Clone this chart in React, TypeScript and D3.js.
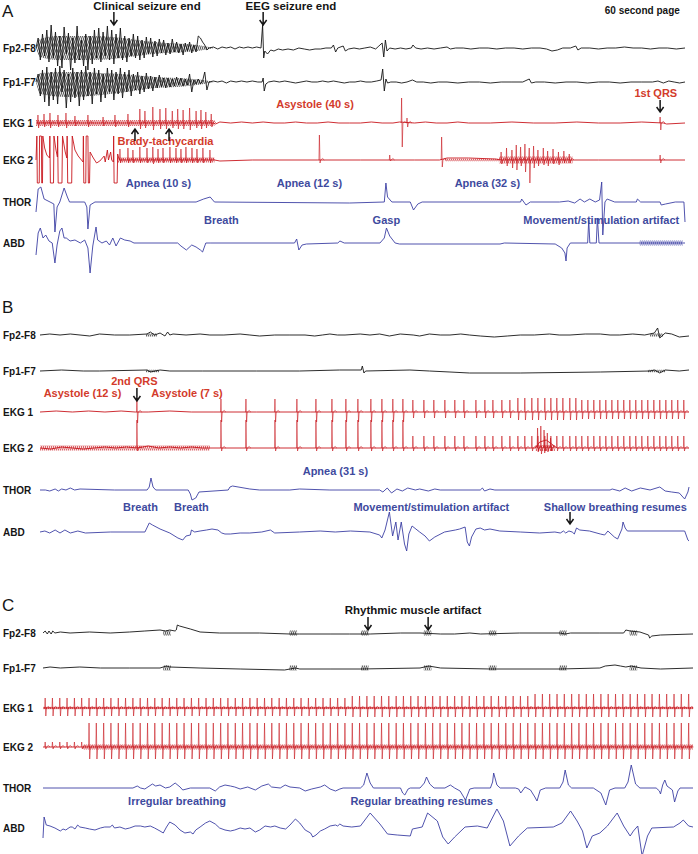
import React, { useEffect, useRef } from "react";
import * as d3 from "d3";

type Pt = [number, number];
type Beat = [number, number, number]; // time, R height, S depth
type Band = [number, number, number]; // start, end, half width
type Env = [number, number, number]; // time, upper, lower
type Amp = [number, number, number]; // from time, R height, S depth

const W = 698;
const H = 854;
const BLACK = "#151515";
const RED = "#c8161d";
const BLUE = "#3c40a4";
const RED_TEXT = "#d33b2b";
const BLUE_TEXT = "#3e4a9e";
const FONT = "'Liberation Sans', Arial, sans-serif";
const STEP = 0.2; // seconds between dense seizure samples

// ---------- panel A ----------
const aFp2Seizure = [
  0, 10, -12, 14, -8, 18, -14, 23, -10, 16, -18, 12, -20, 21, -6, 15, -22, 10, -15, 22,
  -12, 8, -18, 14, -22, 12, -16, 18, -10, 20, -14, 16, -8, 22, -12, 18, -16, 14, -10, 20,
  -12, 12, -14, 10, -8, 14, -10, 12, -12, 8, -10, 11, -6, 10, -9, 7, -8, 9, -5, 8,
  -7, 5, -6, 9, -4, 6, -5, 4, -7, 5, -3, 6, -5, 3, -4, 12, 10, 6, 3, -2, 0,
];
const aFp2: Pt[] = [
  [16.4, 1], [16.8, -1], [17.2, 1], [17.6, 0], [18, 1], [18.4, -1], [18.8, 1], [19.2, 0], [19.6, 1], [20, 0],
  [20.4, 1], [20.8, 0], [20.95, 23], [21.05, -10], [21.15, -3], [21.4, -6], [21.7, -2], [22, -3], [22.4, -1],
  [22.8, -2], [23.3, -1], [23.8, -2], [24.3, 0], [24.8, -1], [25.3, -2], [25.8, -1], [26.3, -1], [26.8, 0],
  [27.3, 0], [27.5, 3], [27.7, -4], [27.9, 0], [28.4, 2], [28.6, -3], [28.9, -1], [29.4, 0], [29.9, -1],
  [30.4, 0], [30.9, 1], [31.4, -1], [31.7, 2], [32.0, 5], [32.15, -9], [32.3, 8], [32.45, -3], [32.7, 0],
  [33.2, -1], [33.7, 0], [34.2, -1], [34.7, 0], [34.85, 3], [35.1, 0], [35.6, -1], [36.2, 0], [36.8, -1],
  [37.4, 0], [38, 1], [38.3, -1], [38.8, 0], [39.5, 0], [40.2, -1], [41, 0], [41.8, 0], [42.6, -1], [43.4, 0],
  [44.2, 0], [45, -1], [45.8, 0], [46.6, 0], [47.2, -1], [47.7, -3], [48.2, -2], [48.7, 0], [49.4, 0],
  [49.9, 2], [50.1, -2], [50.4, 0], [51.2, 0], [52, -1], [52.8, 0], [53.6, 0], [54.4, 1], [55.2, 0], [56, 0],
  [56.8, -1], [57.6, 0], [58.4, 0], [59.2, -1], [60, 0],
];
const aFp2Env: Env[] = [
  [0, 0, 0], [0.4, 9, -9], [2, 12, -12], [5, 12, -12], [8, 10, -10], [10, 7, -7], [12, 5, -5], [14, 4, -4], [15.5, 2, -2], [16.5, 0, 0],
];

const aFp1Seizure = [
  0, 8, -14, 12, -20, 15, -24, 10, -18, 14, -22, 16, -10, 12, -26, 8, -20, 14, -16, 10,
  -24, 12, -18, 16, -14, 10, -22, 14, -12, 12, -20, 8, -16, 14, -10, 12, -18, 10, -12, 14,
  -16, 10, -10, 12, -14, 8, -8, 10, -12, 6, -10, 9, -7, 6, -9, 5, -6, 7, -5, 4,
  -6, 4, -5, 3, -4, 5, -3, 4, -4, 3, -3, 8, -10, 2, -2, 3, -2, 1, 10, -8, 0,
];
const aFp1: Pt[] = [
  [16.4, 1], [16.8, 0], [17.2, 1], [17.6, -1], [18, 1], [18.5, 0], [19, 1], [19.5, 0], [20, 1], [20.5, 0],
  [20.9, 0], [21.0, 4], [21.1, -9], [21.25, -2], [21.5, 0], [22, 1], [22.5, 0], [23, 1], [23.5, 0], [24, -1],
  [24.5, 0], [25, 1], [25.5, 0], [26, 0], [26.5, 1], [27, 0], [27.5, 1], [28, 0], [28.5, -1], [29, 0],
  [29.5, 0], [30, 1], [30.5, 0], [31, 0], [31.5, 1], [31.9, 2], [32.05, 13], [32.2, -9], [32.35, 3],
  [32.5, -1], [32.8, 0], [33.3, 0], [33.8, -1], [34.3, 0], [34.8, 2], [35.2, 0], [35.8, 0], [36.5, -1],
  [37.2, 0], [38, 0], [39, -1], [40, 0], [41, 0], [42, -1], [43, 0], [44, 0], [45, 0], [45.6, 3], [45.8, -1],
  [46.2, 0], [47, 0], [48, -1], [49, 0], [50, 0], [51, -1], [52, 0], [53, 0], [54, -1], [55, 0], [56, 0],
  [57, 0], [57.5, 1], [58, -1], [58.5, 1], [59, 0], [59.5, -1], [60, 0],
];
const aFp1Env: Env[] = [
  [0, 0, 0], [0.4, 9, -12], [3, 10, -15], [6, 9, -13], [9, 7, -9], [11, 5, -6], [13, 4, -5], [15.5, 2, -2], [16.5, 0, 0],
];

const aEkg1: Pt[] = [
  [0, 0], [16.4, 0], [16.6, -1], [17, 1], [18, 0], [19, 1], [20, 0], [21, 1], [22, 0], [23, 0], [24, 1], [25, 0],
  [26, 0], [27, 1], [28, 0], [29, 0], [30, 0], [31, 1], [32, 0], [33, 0], [33.6, 1], [35, 0], [36, 1], [37, 0],
  [38, 0], [39, 1], [40, 0], [42, 0], [44, 1], [46, 0], [48, 0], [50, 1], [52, 0], [54, 0], [56, 1], [58, 0],
  [58.3, -1], [60, 0],
];
const aEkg1Beats: Beat[] = [
  [0.18, 8, 5], [0.74, 9, 4], [1.29, 10, 5], [2.03, 8, 4], [2.77, 10, 5], [3.6, 7, 3], [4.8, 8, 4], [6.2, 6, 3],
  [7.3, 8, 4], [8.5, 9, 4], [9.6, 14, 6], [10.07, 12, 5], [10.8, 16, 7], [11.46, 14, 6], [12.0, 15, 6],
  [12.6, 12, 5], [13.1, 14, 6], [13.6, 13, 6], [14.2, 15, 7], [14.8, 12, 5], [15.25, 13, 6], [15.7, 11, 5],
  [16.2, 9, 4], [33.8, 25, 24], [34.3, 5, 4], [57.7, 6, 7],
];
const aEkg1Bands: Band[] = [[0, 16.5, 3]];

const aEkg2: Pt[] = [
  [0, 0], [0.08, 24], [0.12, -23], [0.3, -23], [0.33, 24], [0.5, 24], [0.53, -23], [0.6, -23], [0.63, 24],
  [0.8, 12], [1.0, 5], [1.25, 2], [1.28, 24], [1.33, -23], [1.62, -23], [1.66, 24], [1.85, 10], [1.98, 3],
  [2.0, 24], [2.05, -23], [2.4, -23], [2.45, 24], [2.7, 8], [2.85, 2], [2.88, 24], [2.93, -23], [3.3, -23],
  [3.35, 24], [3.6, 10], [3.9, 4], [4.2, 0], [4.35, -2], [4.38, 24], [4.42, -23], [4.6, -23], [4.64, 24],
  [4.8, 24], [4.84, -23], [4.95, -23], [5.0, 8], [5.3, 2], [5.6, -3], [5.9, -1], [6.3, 4], [6.4, -2],
  [6.6, 10], [6.7, 0], [6.9, 8], [7.0, 0], [7.15, -2], [7.18, 24], [7.22, -23], [7.5, -23], [7.55, 6],
  [7.7, 0], [16.5, 0], [17, -1], [20, 0], [26, 0], [30, 0], [35, 0], [37.3, 0], [38, 2], [40, 2], [42.5, 1],
  [43, 0], [49.8, 0], [52, 0], [55, 0], [60, 0],
];
const aEkg2Beats: Beat[] = [
  [7.76, 11, 3], [8.5, 12, 3], [8.96, 10, 3], [9.6, 13, 3], [10.26, 12, 3], [10.8, 13, 4], [11.28, 11, 3],
  [11.74, 12, 3], [12.38, 13, 3], [12.94, 12, 3], [13.4, 11, 3], [13.86, 13, 3], [14.42, 12, 3], [14.88, 11, 3],
  [15.43, 12, 3], [16.08, 10, 3], [26.2, 25, 3], [32.7, 5, 1], [37.5, 23, 7], [43.0, 8, 4], [43.5, 12, 6],
  [44.0, 10, 8], [44.4, 15, 10], [44.8, 13, 6], [45.2, 16, 12], [45.6, 12, 23], [46.0, 14, 8], [46.4, 10, 6],
  [46.9, 12, 5], [47.3, 9, 6], [47.8, 11, 4], [48.3, 8, 5], [48.8, 9, 3], [49.3, 6, 3], [57.7, 5, 3],
];
const aEkg2Bands: Band[] = [[7.5, 16.5, 2.5], [37.8, 42.8, 1.2], [42.8, 49.6, 3.5]];

const aThor: Pt[] = [
  [0, -10], [0.2, 13], [0.45, 15], [0.75, 3], [1.3, 0], [1.65, -2], [1.75, -30], [1.95, -5], [2.2, 0],
  [2.6, 14], [2.9, 5], [3.1, 0], [4.5, 0], [4.7, -5], [4.8, -27], [5.0, -3], [5.45, 0], [14.8, 0], [15.5, 3],
  [16.1, 5], [16.5, 0], [29, -1], [32.2, 0], [32.35, 19], [32.5, 5], [32.9, 0], [34.6, 0], [34.9, -8],
  [35.3, -2], [35.7, 0], [44.8, 0], [44.9, 3], [45.3, -3], [45.7, 0], [48.4, 0], [49.2, 1], [49.8, -1],
  [50.3, 3], [50.7, 0], [51.2, 3], [51.7, 0], [52.1, 2], [52.3, 20], [52.4, -33], [52.6, 0], [52.8, 3],
  [53.5, 0], [55.5, 0], [55.6, 3], [55.9, 0], [57.7, 0], [57.8, -3], [58.2, -2], [59.1, 0], [59.9, 0], [60, -20],
];
const aAbd: Pt[] = [
  [0, -12], [0.2, 10], [0.4, 15], [0.65, 5], [0.9, 8], [1.2, 2], [1.5, 0], [1.75, -20], [1.95, -2], [2.2, 12],
  [2.4, 15], [2.6, 5], [2.8, 5], [3.15, 2], [3.6, 3], [4.1, 0], [4.5, 3], [4.8, -5], [5.0, -30], [5.25, -3],
  [5.55, 16], [5.7, 3], [6.1, 0], [6.5, 2], [6.8, -2], [7.1, 5], [7.4, -3], [7.8, 5], [8.2, 3], [8.7, 2],
  [9.06, 0], [13.1, 0], [13.4, -3], [13.9, -7], [14.4, -2], [14.8, -4], [15.2, -7], [15.4, -9], [15.7, 0],
  [16.1, 0], [23.9, 0], [24.1, 4], [24.3, -7], [24.6, -2], [25, -1], [27.9, 0], [28.1, 2], [28.5, 0],
  [31.8, 0], [32.2, 5], [32.4, 15], [32.7, 7], [33.2, 0], [33.6, -1], [42.9, -1], [43.3, 0], [48, -1],
  [48.6, -5], [48.9, -10], [49, -18], [49.1, -5], [49.4, 0], [51, 0], [51.1, 23], [51.2, 0], [51.8, 0],
  [51.9, 25], [52.05, 0], [55.8, 0], [59.8, 0], [60, 0],
];
const aAbdBands: Band[] = [[55.8, 59.8, 2.5]];

// ---------- panel B ----------
const bFp2: Pt[] = [
  [0, 0], [0.9, 1], [1.85, 0], [2.8, 1], [3.7, 0], [4.6, -1], [5.5, 1], [6.9, 0], [8.3, 0], [9.9, 1], [10.2, 3],
  [10.6, 0], [11.1, 2], [11.55, -1], [11.8, 3], [12, 0], [12.3, 1], [13.5, 0], [14.8, 1], [15.7, 0], [17, 0],
  [18.5, 1], [19.4, 0], [20.3, -1], [21.7, 0], [23.1, 0], [24.5, 0], [25.4, -1], [26.1, 0], [26.8, 1],
  [27.5, 0], [28.2, 0], [29.6, 1], [30.5, 0], [31.4, 1], [32.3, -1], [33.3, 1], [34.5, 0], [35.1, -1],
  [36, 1], [37, 0], [37.9, 0], [38.9, 1], [39.7, 0], [40.7, -1], [42, -2], [43.2, -1], [44.4, 0], [45.7, 0],
  [47.1, 1], [48, 0], [49, 0], [50.4, 1], [51.8, 1], [52.7, 0], [53.6, 0], [54.8, 1], [55.9, 0], [56.8, 2],
  [57.1, 7], [57.3, -3], [57.8, 2], [58.4, 1], [59.1, -2], [60, -1],
];
const bFp2Bands: Band[] = [[9.8, 10.8, 1.5], [56.4, 57.6, 1.5]];
const bFp1: Pt[] = [
  [0, 0], [2, 1], [4, 0], [5.5, 0], [9.9, 1], [10.2, -1], [11.1, 1], [12, 0], [15, 0], [20, 0], [24, 0],
  [27.7, 1], [29.7, 1], [29.8, 5], [29.95, -2], [30.1, 0], [34.2, 1], [36, 0], [37.9, -1], [39.7, -2],
  [44.4, -2], [51.8, -1], [56.4, 0], [56.8, 1], [57.3, -2], [57.8, 1], [59.1, 0], [60, 1],
];
const bFp1Bands: Band[] = [[9.8, 11, 1.2], [56.2, 57.8, 1.2]];

const bBeatTimes = [
  8.96, 16.73, 19.04, 21.72, 23.75, 25.51, 26.99, 28.28, 29.39, 30.59, 31.61, 32.62, 33.55, 34.47, 35.49,
  36.41, 37.43, 38.35, 39.19, 40.3, 41.13, 41.87, 42.7, 43.44, 44.18, 44.82, 45.47, 46.03, 46.67, 47.23,
  47.78, 48.34, 48.98, 49.54, 50.09, 50.65, 51.2, 51.76, 52.31, 52.87, 53.42, 53.97, 54.53, 55.08, 55.64,
  56.19, 56.75, 57.3, 57.86, 58.41, 58.96, 59.52,
];
const bEkg1Amp: Amp[] = [[0, 14, 11], [16, 13, 10], [34, 12, 6], [44, 14, 8], [50, 12, 7]];
const bEkg2Amp: Amp[] = [[0, 28, 3], [34, 12, 3]];
const bEkg1: Pt[] = [
  [0, 0], [1.5, 1], [3, 0], [4.5, 1], [6, 0], [7.5, 1], [8.8, 0], [10, 0], [12, 1], [14, 0], [16, 0], [20, 0],
  [25, 0], [30, 0], [40, 0], [50, 0], [60, 0],
];
const bEkg2: Pt[] = [
  [0, 0], [1, -1], [2, 1], [3, 0], [4, -1], [5, 0], [6, 1], [7, 0], [8, 1], [9, 0], [10, 2], [11, 0], [12, 1],
  [13, 0], [14, 1], [15, 0], [15.7, 0], [45.8, 0], [46.2, 6], [46.8, 8], [47.3, 4], [47.8, 0], [60, 0],
];
const bEkg2Extra: Beat[] = [[46.0, 20, 4], [46.3, 22, 6], [46.6, 18, 5], [46.9, 15, 4], [47.2, 10, 3]];
const bEkg2Bands: Band[] = [[0, 15.7, 2.5], [45.8, 47.6, 3]];

const bThor: Pt[] = [
  [0, 0], [0.5, 0], [0.9, -1], [1.4, 1], [1.7, -1], [2.0, 1], [2.4, 0], [2.8, 2], [3.2, 0], [3.7, 1], [6.9, 0],
  [9.9, 0], [10.1, 3], [10.26, 12], [10.45, 3], [10.7, 0], [13.7, 0], [13.9, -4], [14.05, -10], [14.4, -8],
  [14.7, -2], [17.4, 0], [17.56, 3], [17.8, 4], [19.4, 1], [20.3, 0], [23.1, 0], [24, 1], [26.8, 0],
  [31.4, 0], [31.7, -2], [32.1, 2], [32.5, -3], [33, 1], [33.5, -1], [34, 2], [34.7, 0], [35.1, 1],
  [35.9, -1], [36.5, 1], [37, 0], [40.7, 0], [40.9, 2], [41.1, -1], [41.6, 1], [42.05, 0], [52.7, 0],
  [52.9, 1], [53.6, -1], [54.1, 2], [54.7, -1], [55.5, 2], [56.4, 0], [57.3, 3], [57.8, -1], [58.4, -2],
  [59.1, -3], [59.6, -9], [59.9, -2], [60, 3],
];
const bAbd: Pt[] = [
  [0, 0], [0.45, 1], [0.9, -1], [1.4, 2], [1.85, -1], [2.3, 2], [2.8, -1], [3.5, 1], [4.2, -1], [6.5, 0],
  [9.7, 0], [10.1, 9], [10.4, 7], [11.1, 3], [12, -1], [12.75, -6], [13.2, -8], [13.5, -4], [13.9, -3],
  [14, 2], [14.3, 0], [14.8, 1], [15.4, 2], [15.9, 3], [16.45, 2], [16.8, -1], [17.1, -2], [17.6, -2],
  [18.5, -1], [19.4, -1], [20.5, 0], [21.3, 2], [21.7, -1], [24, 0], [25.9, 1], [27.3, 0], [28.7, 1],
  [30.5, 0], [31.4, -3], [31.6, -6], [31.9, 2], [32.3, 20], [32.6, -4], [32.9, 10], [33.1, -8], [33.4, 10],
  [33.7, -12], [33.9, -19], [34.1, -2], [34.4, 6], [35.1, 0], [35.6, -4], [36, -9], [36.5, -5], [37.4, 0],
  [38.4, 2], [38.8, 3], [39.3, 5], [39.5, -10], [39.7, -14], [39.9, -5], [40.3, 3], [40.7, 4], [41.1, 2],
  [41.6, 3], [42.5, 1], [44.4, 0], [46.2, -1], [47.6, 0], [48.1, -1], [48.4, 1], [48.6, -1], [48.9, 1],
  [49.2, 0], [49.4, -2], [49.5, 1], [49.6, 4], [49.9, 2], [50.8, 1], [51.8, -2], [52.2, -3], [52.5, 1],
  [53.1, -5], [53.4, -7], [53.8, 3], [53.9, 10], [54.1, 4], [54.3, 1], [59.6, 1], [59.9, -8], [60, -9],
];

// ---------- panel C ----------
const cFp2: Pt[] = [
  [0, 0], [0.2, 2], [0.4, -1], [0.55, 2], [0.75, -1], [0.9, 2], [1.1, 0], [1.6, 1], [2.5, 0], [4.3, 1],
  [6.2, 0], [8, 1], [9.4, 2], [10.8, 3], [11.3, 2], [11.7, 3], [12.2, 2], [12.3, 3], [12.4, 8], [12.6, 7],
  [13.6, 4], [14.5, 1], [16.3, 0], [20, 0], [22.8, -1], [23.7, -1], [26.5, -1], [28.3, -1], [30.2, -1],
  [33, 0], [34.8, 0], [36.7, -1], [38, -1], [39.4, 0], [40.4, -1], [44, 0], [47.7, 0], [48.2, -1], [48.7, 0],
  [51.4, 0], [53.6, 0], [53.8, 3], [54.2, 2], [55.1, 1], [55.9, -2], [56, -5], [56.2, -3], [57, -2], [60, -1],
];
const cFp1: Pt[] = [
  [0, 0], [0.65, 1], [1.6, 0], [3.4, 1], [5.3, 0], [8, 0], [10.8, 0], [11.4, 2], [11.7, 1], [14.5, 0],
  [18.2, -1], [22.3, -2], [23.3, 0], [23.7, -1], [26.5, -1], [29.3, -1], [34.8, 0], [35.6, 2], [36.7, 0],
  [41.3, -1], [47.7, -1], [51.4, 0], [51.9, 2], [52.8, 3], [53.3, 2], [53.8, 1], [54.3, 2], [55.2, 0],
  [57, -1], [60, 0],
];
const cMuscle = [11.45, 23.1, 29.7, 35.5, 41.5, 48, 54.5];

const cBeatTimes = [
  0.2, 0.87, 1.55, 2.22, 2.9, 3.57, 4.25, 4.92, 5.6, 6.27, 6.95, 7.62, 8.3, 8.97, 9.65, 10.32, 11.0, 11.67,
  12.35, 13.02, 13.7, 14.37, 15.05, 15.72, 16.4, 17.07, 17.75, 18.42, 19.1, 19.77, 20.45, 21.12, 21.8,
  22.47, 23.15, 23.82, 24.5, 25.17, 25.85, 26.52, 27.2, 27.87, 28.55, 29.22, 29.9, 30.57, 31.25, 31.92,
  32.6, 33.27, 33.95, 34.62, 35.3, 35.97, 36.65, 37.32, 38.0, 38.67, 39.35, 40.02, 40.7, 41.37, 42.05,
  42.72, 43.4, 44.07, 44.75, 45.42, 46.1, 46.77, 47.45, 48.12, 48.8, 49.47, 50.15, 50.82, 51.5, 52.17,
  52.85, 53.52, 54.2, 54.87, 55.55, 56.22, 56.9, 57.57, 58.25, 58.92, 59.6,
];
const cEkg1Amp: Amp[] = [[0, 10, 8], [28, 12, 9], [45, 14, 9]];
const cEkg2Amp: Amp[] = [[0, 5, 2], [3.6, 24, 12]];
const cEkg1: Pt[] = [[0, 0], [60, 0]];
const cEkg2: Pt[] = [[0, 0], [60, 0]];
const cEkg1Bands: Band[] = [[0, 60, 1.2]];
const cEkg2Bands: Band[] = [[3.7, 60, 2.5]];

const cThor: Pt[] = [
  [0, 0], [8.3, 0], [8.7, 2], [9.0, 0], [9.4, -1], [10.1, 4], [10.4, 2], [10.8, 3], [11.3, 0], [11.7, 1],
  [12.2, 5], [12.65, 1], [12.9, -2], [13.6, 0], [15.4, 0], [15.9, -3], [16.3, 1], [16.8, 3], [17.3, 2],
  [17.7, 1], [18.2, -1], [18.9, 1], [19.6, -2], [20.2, 2], [20.8, 4], [21.1, 1], [21.9, 0], [22.35, 3],
  [22.8, 1], [23.7, 0], [24.2, -3], [24.8, -1], [25.6, 1], [26, 3], [26.5, -1], [27, -3], [27.4, -1],
  [27.7, 0], [29.3, 0], [29.6, 3], [29.9, 15], [30.2, 5], [30.5, 0], [33, 0], [33.2, -5], [33.4, -7],
  [33.7, -1], [33.9, 0], [34.8, 0], [35.2, 5], [35.4, 11], [35.7, 4], [36.1, 0], [37.1, 0], [37.6, 3],
  [38, 0], [38.5, -3], [39, -12], [39.4, -1], [39.8, 0], [41.3, 0], [41.5, 6], [41.6, 15], [41.9, 3],
  [42.2, 0], [43.6, 0], [43.9, -1], [44.1, -5], [44.5, 1], [45, -2], [45.4, -9], [45.6, -13], [45.9, -2],
  [46.4, 0], [47.7, 0], [48, 6], [48.2, 18], [48.5, 3], [48.8, 0], [50.8, 0], [51.5, -5], [51.95, -17],
  [52.3, -2], [52.8, 0], [53.7, 0], [54, 6], [54.3, 23], [54.7, 4], [55.1, 0], [56.6, 0], [56.9, -3],
  [57, -6], [57.2, 3], [57.4, 8], [57.6, 2], [58.1, -2], [58.3, -14], [58.6, -3], [58.8, 0], [60, 0],
];
const cAbd: Pt[] = [
  [0, -10], [0.1, 11], [0.3, 3], [0.65, 2], [1.1, 0], [1.6, -3], [1.85, -1], [2.1, -2], [2.5, 1], [2.7, 1],
  [2.95, -1], [3.2, 3], [3.4, 1], [3.9, 0], [4.3, -1], [4.8, -2], [5.3, 0], [5.7, 1], [6.2, 1], [6.4, 3],
  [6.6, 0], [7.1, 1], [7.6, -1], [8, 0], [8.5, 2], [9, 2], [9.4, 1], [9.9, 2], [10.3, 0], [10.8, -3],
  [11.1, -5], [11.4, 1], [11.7, 6], [12.2, 3], [12.65, -2], [13.1, -5], [13.6, -4], [13.85, -6], [14.1, -2],
  [14.5, 1], [15, 5], [15.4, 7], [15.9, 4], [16.3, 0], [16.8, -2], [17.3, -3], [17.7, -2], [18.2, 0],
  [18.65, -1], [19.1, 0], [19.6, -4], [20, -2], [20.5, 2], [21, 1], [21.4, 2], [21.9, 0], [22.4, -1],
  [22.8, 3], [23.3, 9], [23.7, 5], [24.2, -2], [24.7, -5], [24.9, -9], [25.2, -7], [25.6, -3], [26, -1],
  [26.5, 2], [27, 3], [27.2, 2], [27.4, 4], [27.7, 2], [28.5, 1], [29.3, 2], [30.2, 15], [31.1, 4],
  [31.8, -6], [32.7, -7], [33.9, -8], [34.1, -1], [35.0, 1], [35.5, 15], [36.4, 7], [36.9, -9], [37.4, -16],
  [38.0, -9], [38.96, 1], [40.1, 2], [41.0, 0], [41.9, 19], [42.5, 7], [43.1, -18], [43.9, -8], [44.7, 0],
  [47.1, 1], [47.9, 5], [48.7, 17], [49.3, 7], [49.8, -3], [50.2, -20], [50.7, -8], [51.4, -5], [52.1, 2],
  [53.0, 15], [53.6, 2], [54.2, -8], [54.5, -3], [54.9, 2], [55.3, -28], [55.8, -8], [56.2, 0], [58.2, 1],
  [58.8, 5], [59.1, 8], [59.6, 2], [60, 1],
];

// ---------- annotations ----------
type Note = { p: number; t: number; y: number; text: string; color: string; anchor?: string; size?: number };
const notes: Note[] = [
  { p: 0, t: 10.26, y: 10, text: "Clinical seizure end", color: BLACK, size: 11.5 },
  { p: 0, t: 23.57, y: 10, text: "EEG seizure end", color: BLACK, size: 11.5 },
  { p: 0, t: 59.52, y: 14, text: "60 second page", color: BLACK, anchor: "end", size: 10 },
  { p: 0, t: 25.8, y: 108, text: "Asystole (40 s)", color: RED_TEXT },
  { p: 0, t: 57.3, y: 97, text: "1st QRS", color: RED_TEXT },
  { p: 0, t: 11.97, y: 145, text: "Brady-tachycardia", color: RED_TEXT },
  { p: 0, t: 11.32, y: 187, text: "Apnea (10 s)", color: BLUE_TEXT },
  { p: 0, t: 25.28, y: 187, text: "Apnea (12 s)", color: BLUE_TEXT },
  { p: 0, t: 41.73, y: 187, text: "Apnea (32 s)", color: BLUE_TEXT },
  { p: 0, t: 17.14, y: 224, text: "Breath", color: BLUE_TEXT },
  { p: 0, t: 32.39, y: 224, text: "Gasp", color: BLUE_TEXT },
  { p: 0, t: 52.26, y: 224, text: "Movement/stimulation artifact", color: BLUE_TEXT },
  { p: 1, t: 8.73, y: 385, text: "2nd QRS", color: RED_TEXT },
  { p: 1, t: 3.93, y: 397, text: "Asystole (12 s)", color: RED_TEXT },
  { p: 1, t: 13.59, y: 397, text: "Asystole (7 s)", color: RED_TEXT },
  { p: 1, t: 27.31, y: 475, text: "Apnea (31 s)", color: BLUE_TEXT },
  { p: 1, t: 9.29, y: 511, text: "Breath", color: BLUE_TEXT },
  { p: 1, t: 14.0, y: 511, text: "Breath", color: BLUE_TEXT },
  { p: 1, t: 36.18, y: 511, text: "Movement/stimulation artifact", color: BLUE_TEXT },
  { p: 1, t: 53.19, y: 511, text: "Shallow breathing resumes", color: BLUE_TEXT },
  { p: 2, t: 34.16, y: 614, text: "Rhythmic muscle artifact", color: BLACK, size: 11.5 },
  { p: 2, t: 12.37, y: 805, text: "Irregular breathing", color: BLUE_TEXT },
  { p: 2, t: 34.95, y: 805, text: "Regular breathing resumes", color: BLUE_TEXT },
];
// arrows: panel, time, tail y, head y
const arrows: [number, number, number, number][] = [
  [0, 7.2, 12, 25], [0, 21.0, 12, 25], [0, 57.7, 100, 112], [0, 9.15, 141, 129], [0, 12.3, 141, 129],
  [1, 8.96, 388, 401], [1, 49.0, 512, 524], [2, 30.0, 617, 630], [2, 35.55, 617, 630],
];

type Trace = {
  label: string; y: number; color: string; pts: Pt[];
  env?: Env[]; bands?: Band[]; beats?: Beat[]; beatTimes?: number[]; amp?: Amp[];
};
type Panel = { name: string; letterY: number; x0: number; x1: number; traces: Trace[] };

const dense = (vals: number[]): Pt[] => vals.map((v, i) => [i * STEP, v] as Pt);
const muscleBands = (ts: number[]): Band[] => ts.map((t) => [t - 0.35, t + 0.35, 2.5] as Band);

const panels: Panel[] = [
  {
    name: "A", letterY: 17, x0: 36, x1: 685,
    traces: [
      { label: "Fp2-F8", y: 48, color: BLACK, pts: [...dense(aFp2Seizure), ...aFp2], env: aFp2Env },
      { label: "Fp1-F7", y: 82, color: BLACK, pts: [...dense(aFp1Seizure), ...aFp1], env: aFp1Env },
      { label: "EKG 1", y: 123, color: RED, pts: aEkg1, beats: aEkg1Beats, bands: aEkg1Bands },
      { label: "EKG 2", y: 160, color: RED, pts: aEkg2, beats: aEkg2Beats, bands: aEkg2Bands },
      { label: "THOR", y: 202, color: BLUE, pts: aThor },
      { label: "ABD", y: 243, color: BLUE, pts: aAbd, bands: aAbdBands },
    ],
  },
  {
    name: "B", letterY: 313, x0: 40, x1: 689,
    traces: [
      { label: "Fp2-F8", y: 335, color: BLACK, pts: bFp2, bands: bFp2Bands },
      { label: "Fp1-F7", y: 371, color: BLACK, pts: bFp1, bands: bFp1Bands },
      { label: "EKG 1", y: 412, color: RED, pts: bEkg1, beatTimes: bBeatTimes, amp: bEkg1Amp },
      { label: "EKG 2", y: 448, color: RED, pts: bEkg2, beatTimes: bBeatTimes, amp: bEkg2Amp, beats: bEkg2Extra, bands: bEkg2Bands },
      { label: "THOR", y: 490, color: BLUE, pts: bThor },
      { label: "ABD", y: 532, color: BLUE, pts: bAbd },
    ],
  },
  {
    name: "C", letterY: 611, x0: 43, x1: 693,
    traces: [
      { label: "Fp2-F8", y: 633, color: BLACK, pts: cFp2, bands: muscleBands(cMuscle) },
      { label: "Fp1-F7", y: 668, color: BLACK, pts: cFp1, bands: muscleBands(cMuscle) },
      { label: "EKG 1", y: 708, color: RED, pts: cEkg1, beatTimes: cBeatTimes, amp: cEkg1Amp, bands: cEkg1Bands },
      { label: "EKG 2", y: 747, color: RED, pts: cEkg2, beatTimes: cBeatTimes, amp: cEkg2Amp, bands: cEkg2Bands },
      { label: "THOR", y: 788, color: BLUE, pts: cThor },
      { label: "ABD", y: 828, color: BLUE, pts: cAbd },
    ],
  },
];

const ampAt = (amp: Amp[], t: number): [number, number] => {
  let cur = amp[0];
  amp.forEach((a) => { if (t >= a[0]) cur = a; });
  return [cur[1], cur[2]];
};

// fuzz texture for dense high-frequency activity
const hatchId = (color: string) => `fuzz-${color.replace("#", "")}`;

const App = () => {
  const svgRef = useRef<SVGSVGElement | null>(null);

  useEffect(() => {
    const svg = d3.select(svgRef.current);
    svg.selectAll("*").remove();
    svg.append("rect").attr("width", W).attr("height", H).attr("fill", "#fff");

    const defs = svg.append("defs");
    [BLACK, RED, BLUE].forEach((c) => {
      const p = defs.append("pattern")
        .attr("id", hatchId(c))
        .attr("width", 2).attr("height", 6)
        .attr("patternUnits", "userSpaceOnUse");
      p.append("path").attr("d", "M0.5,0L1.5,3L0.5,6").attr("fill", "none").attr("stroke", c).attr("stroke-width", 0.8);
    });

    panels.forEach((panel, pi) => {
      const x = d3.scaleLinear().domain([0, 60]).range([panel.x0, panel.x1]);
      const g = svg.append("g");

      g.append("text")
        .attr("x", 2).attr("y", panel.letterY)
        .style("font-family", FONT).style("font-size", "17px").attr("fill", BLACK)
        .text(panel.name);

      panel.traces.forEach((tr) => {
        const y = d3.scaleLinear().domain([-1, 1]).range([tr.y + 1, tr.y - 1]);

        g.append("text")
          .attr("x", 3).attr("y", tr.y + 4)
          .style("font-family", FONT).style("font-size", "10px").style("font-weight", "bold")
          .attr("fill", BLACK)
          .text(tr.label);

        if (tr.env) {
          const area = d3.area<Env>().x((d) => x(d[0])).y0((d) => y(d[2])).y1((d) => y(d[1])).curve(d3.curveMonotoneX);
          g.append("path").attr("d", area(tr.env)).attr("fill", `url(#${hatchId(tr.color)})`);
        }
        (tr.bands || []).forEach((b) => {
          g.append("rect")
            .attr("x", x(b[0])).attr("width", x(b[1]) - x(b[0]))
            .attr("y", y(b[2])).attr("height", y(-b[2]) - y(b[2]))
            .attr("fill", `url(#${hatchId(tr.color)})`);
        });

        const line = d3.line<Pt>().x((d) => x(d[0])).y((d) => y(d[1]));
        g.append("path")
          .attr("d", line(tr.pts))
          .attr("fill", "none").attr("stroke", tr.color).attr("stroke-width", 0.9)
          .attr("stroke-linejoin", "round");

        const beats: Beat[] = [...(tr.beats || [])];
        if (tr.beatTimes && tr.amp) {
          tr.beatTimes.forEach((t) => {
            const [r, s] = ampAt(tr.amp as Amp[], t);
            beats.push([t, r, s]);
          });
        }
        const beatPath = (b: Beat) => {
          const [t, r, s] = b;
          return line([[t - 0.04, 0], [t, r], [t + 0.06, -s], [t + 0.12, 0], [t + 0.3, 1.5], [t + 0.45, 0]]);
        };
        g.selectAll(null)
          .data(beats)
          .join("path")
          .attr("d", (d) => beatPath(d))
          .attr("fill", "none").attr("stroke", tr.color).attr("stroke-width", 0.7)
          .attr("opacity", 0.85);
      });

      notes.filter((n) => n.p === pi).forEach((n) => {
        g.append("text")
          .attr("x", x(n.t)).attr("y", n.y)
          .attr("text-anchor", n.anchor || "middle")
          .style("font-family", FONT).style("font-weight", "bold")
          .style("font-size", `${n.size || 11}px`)
          .attr("fill", n.color)
          .text(n.text);
      });

      arrows.filter((a) => a[0] === pi).forEach((a) => {
        const ax = x(a[1]);
        const dir = a[3] > a[2] ? 1 : -1;
        g.append("path")
          .attr("d", `M${ax},${a[2]}L${ax},${a[3]}M${ax - 3.5},${a[3] - dir * 5}L${ax},${a[3]}L${ax + 3.5},${a[3] - dir * 5}`)
          .attr("fill", "none").attr("stroke", BLACK).attr("stroke-width", 1.5);
      });
    });

    return () => {
      svg.selectAll("*").remove();
    };
  }, []);

  return (
    <svg
      ref={svgRef}
      width={W}
      height={H}
      style={{ position: "absolute", left: 0, top: 0, display: "block" }}
    />
  );
};

export default App;
